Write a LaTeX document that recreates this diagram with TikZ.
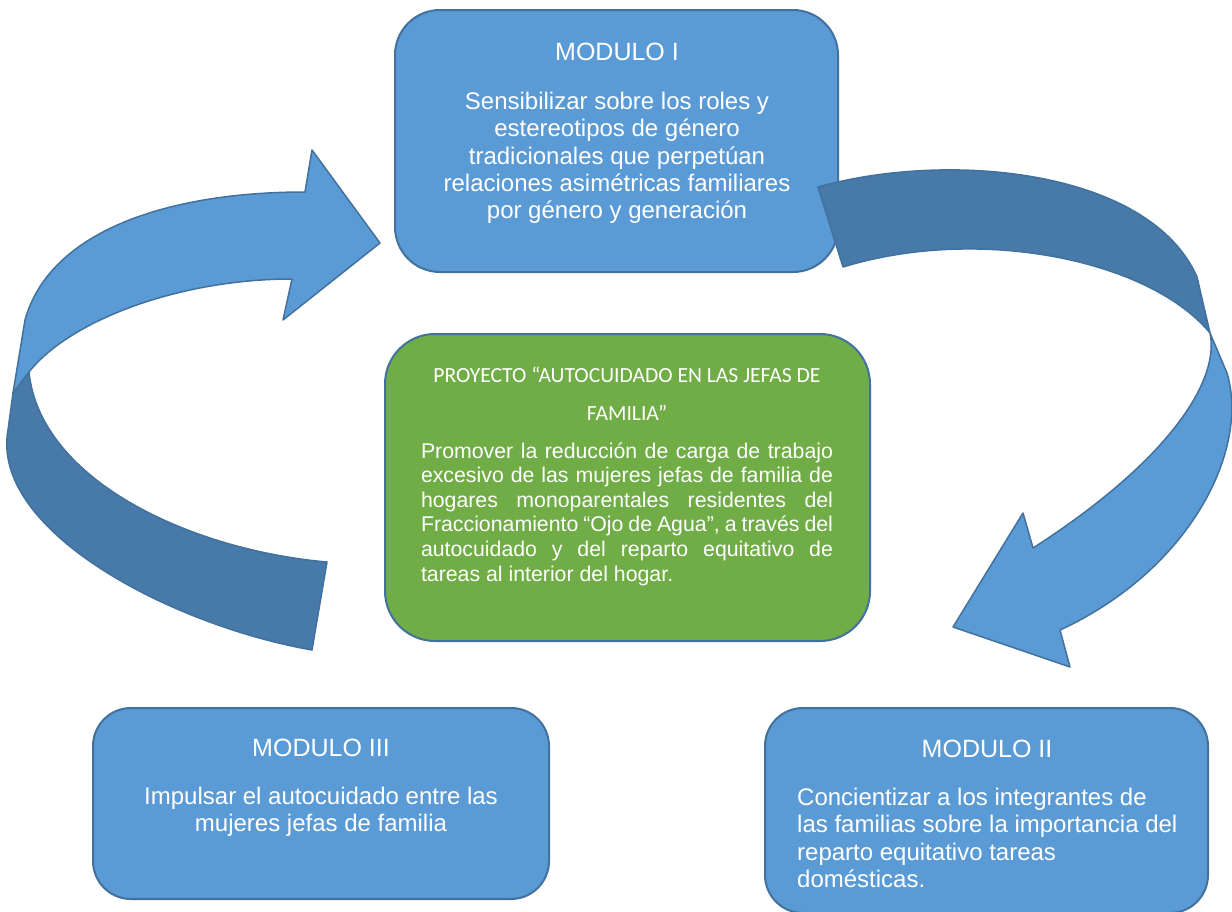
\documentclass[tikz,border=0pt]{standalone}
\usepackage{fontspec}
\setmainfont{Liberation Sans}
\newfontfamily\calib{Carlito}
\definecolor{boxblue}{HTML}{5B9BD5}
\definecolor{edgeblue}{HTML}{41719C}
\definecolor{darkband}{HTML}{477AA9}
\definecolor{boxgreen}{HTML}{70AD47}
\begin{document}
\begin{tikzpicture}[x=1pt,y=-1pt,
  modbox/.style={draw=edgeblue, line width=2pt, fill=boxblue, inner sep=0pt},
  greenbox/.style={draw=edgeblue, line width=2pt, fill=boxgreen, inner sep=0pt, rounded corners=50pt},
  lightband/.style={draw=edgeblue, line width=1.5pt, fill=boxblue, line join=round},
  darkband/.style={draw=edgeblue, line width=1.5pt, fill=darkband, line join=round},
  txt/.style={text=white, inner sep=0pt},
  titlefont/.style={font=\fontsize{25}{30}\selectfont},
  bodyfont/.style={font=\fontsize{24}{27.3}\selectfont}]
\useasboundingbox (0,0) rectangle (1232,911);

% boxes
\node[modbox, rounded corners=45pt, minimum width=443pt, minimum height=262pt] (m1) at (616.5,141) {};
\node[greenbox, minimum width=485pt, minimum height=307pt] (pr) at (627.5,487.5) {};
\node[modbox, rounded corners=38pt, minimum width=456pt, minimum height=191pt] (m3) at (321,803.5) {};
\node[modbox, rounded corners=38pt, minimum width=443pt, minimum height=205pt] (m2) at (986.5,810.5) {};

% texts
\node[txt, titlefont] (m1t) at (617,52) {MODULO I};
\node[txt, bodyfont, align=center] (m1b) at (617,158) {Sensibilizar sobre los roles y\\estereotipos de género\\tradicionales que perpetúan\\relaciones asimétricas familiares\\por género y generación};

\node[txt, font=\calib\fontsize{21.6}{38}\selectfont, align=center] (prt) at (627,394) {PROYECTO “AUTOCUIDADO EN LAS JEFAS DE\\FAMILIA”};
\node[txt, font=\fontsize{21.3}{24.6}\selectfont, text width=412pt, align=justify] (prb) at (627,514) {Promover la reducción de carga de trabajo\linebreak excesivo de las mujeres jefas de familia de\linebreak hogares monoparentales residentes del\linebreak Fraccionamiento “Ojo de Agua”, a través del\linebreak autocuidado y del reparto equitativo de\linebreak tareas al interior del hogar.};

\node[txt, titlefont] (m3t) at (321,748) {MODULO III};
\node[txt, bodyfont, align=center] (m3b) at (321,812) {Impulsar el autocuidado entre las\\mujeres jefas de familia};

\node[txt, titlefont] (m2t) at (987,749) {MODULO II};
\node[txt, bodyfont, align=left, anchor=north west] (m2b) at (797,788) {Concientizar a los integrantes de\\las familias sobre la importancia del\\reparto equitativo tareas\\domésticas.};

% left arrow (Modulo III -> Modulo I)
\draw[darkband] (29,372) .. controls (40,480) and (190,550) .. (327,562) -- (312,650)
   .. controls (170,625) and (-10,530) .. (8,430) -- (13,393) -- cycle;
\draw[lightband] (13,393) -- (25,320) .. controls (50,230) and (170,192) .. (305,192)
   -- (312,150) -- (380,243) -- (283,320) -- (292,279)
   .. controls (180,279) and (70,320) .. (29,372) -- cycle;

% right arrow (Modulo I -> Modulo II)
\draw[darkband] (818,187) .. controls (950,150) and (1150,170) .. (1197,277) -- (1210,333)
   .. controls (1150,260) and (980,225) .. (843,267) -- cycle;
\draw[lightband] (1210,333) -- (1227,373) .. controls (1250,450) and (1190,570) .. (1060,630)
   -- (1070,667) -- (953,627) -- (1023,513) -- (1033,548)
   .. controls (1170,460) and (1220,380) .. (1210,333) -- cycle;
\end{tikzpicture}
\end{document}
